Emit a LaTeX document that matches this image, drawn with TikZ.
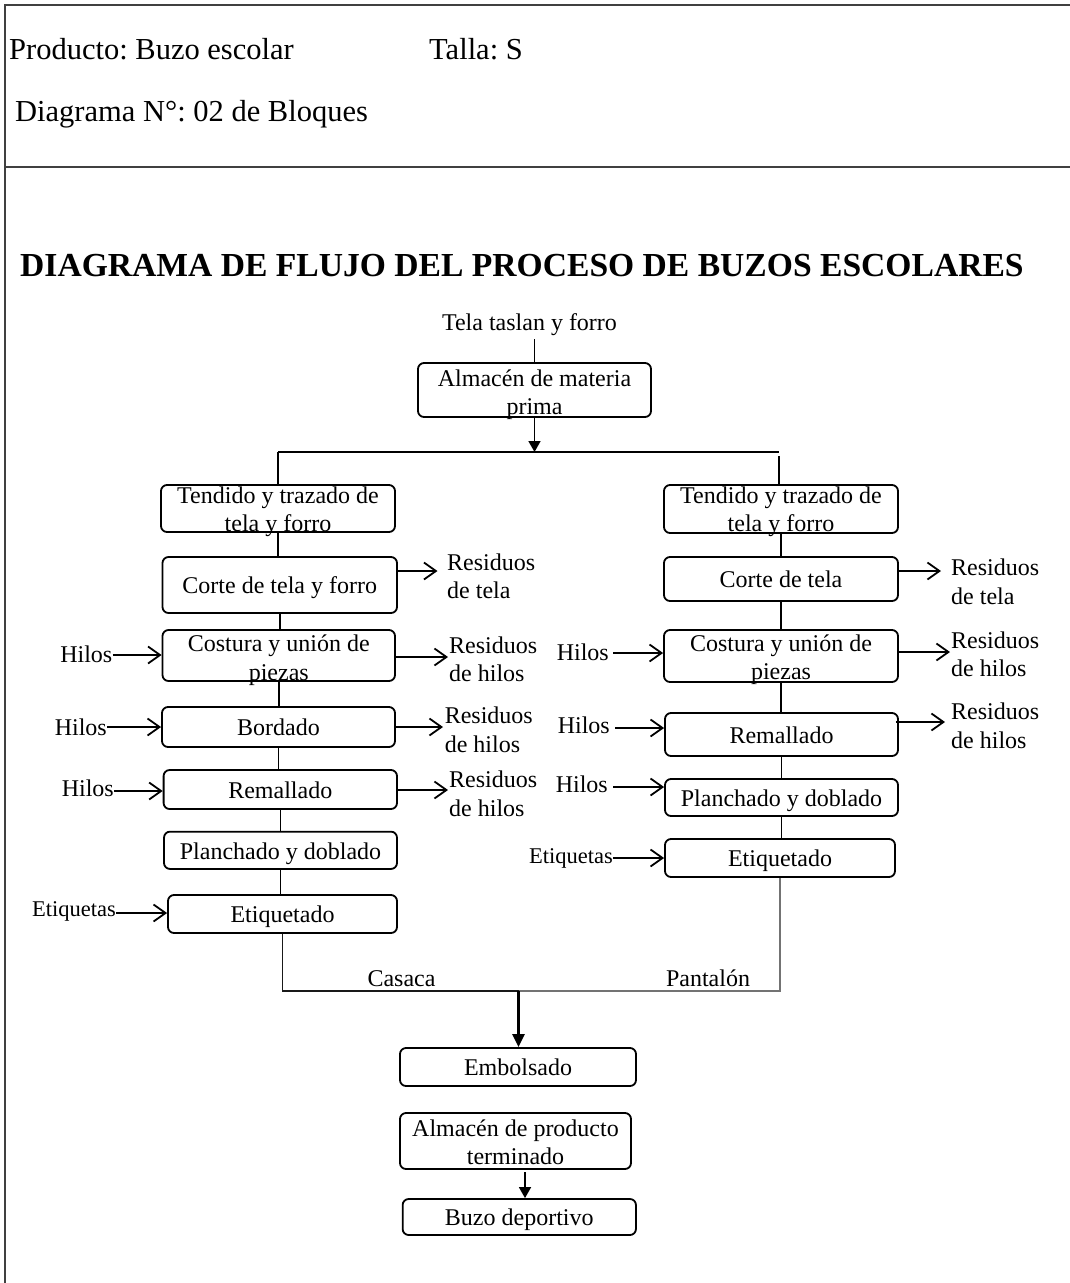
\documentclass[tikz,border=0pt]{standalone}
\usepackage{fontspec}
\setmainfont{Liberation Serif}
\usetikzlibrary{arrows.meta}
\frenchspacing
\newcommand\bodysize{\fontsize{24}{28.5}\selectfont}
\newcommand\tagsize{\fontsize{22.5}{27}\selectfont}
\newcommand\headsize{\fontsize{30.5}{36}\selectfont}
\newcommand\titlesize{\fontsize{33.6}{40}\selectfont\bfseries}
\begin{document}
\begin{tikzpicture}[x=1pt,y=-1pt,
  frame/.style={line width=2pt,draw=black!75},
  box/.style={draw,line width=1.8pt,rounded corners=6pt,inner sep=0pt,
    font=\bodysize,align=center},
  one/.style={text height=23pt,text depth=5.5pt},
  txt/.style={inner sep=0pt,font=\bodysize,align=center},
  sidel/.style={inner sep=0pt,font=\bodysize,align=left,anchor=west},
  sider/.style={inner sep=0pt,font=\bodysize,anchor=east,text height=20pt,text depth=8.5pt},
  tagr/.style={inner sep=0pt,font=\tagsize,anchor=east,text height=19pt,text depth=8pt},
  link/.style={line width=1.6pt},
  flow/.style={line width=1.6pt,-{Triangle[length=11pt,width=12pt]}},
  feed/.style={line width=1.8pt,-{Straight Barb[length=12pt,width=17pt]}},
  merge/.style={line width=1.2pt}]
\useasboundingbox (0,0) rectangle (1070,1283);

% sheet frame and header
\draw[frame] (5,1283) -- (5,5) -- (1070,5);
\draw[frame] (5,167) -- (1070,167);
\node[inner sep=0pt,anchor=base west,font=\headsize] (prod) at (9,59.3) {Producto: Buzo escolar};
\node[inner sep=0pt,anchor=base west,font=\headsize] (talla) at (429,59.3) {Talla: S};
\node[inner sep=0pt,anchor=base west,font=\headsize] (diag) at (15,121.7) {Diagrama N°: 02 de Bloques};
\node[inner sep=0pt,anchor=base west,font=\titlesize] (title) at (20,276) {DIAGRAMA DE FLUJO DEL PROCESO DE BUZOS ESCOLARES};

% raw material
\node[txt,text height=20pt,text depth=8.5pt] (tela) at (529.5,325) {Tela taslan y forro};
\node[box,minimum width=233pt,minimum height=54pt] (alm) at (534.5,390) {};
\node[txt] (almt) at (534.5,395) {\strut Almacén de materia\\\strut prima};
\draw[link] (tela.south -| alm.north) -- (alm.north);
\coordinate (split) at (534.5,452);
\draw[flow] (alm.south) -- (split);

% left branch: casaca
\node[box,minimum width=234pt,minimum height=47pt] (tendL) at (278,508.5) {};
\node[txt] (tendLt) at (278,512) {\strut Tendido y trazado de\\\strut tela y forro};
\node[box,one,minimum width=234.5pt,minimum height=56pt] (corteL) at (279.75,585) {Corte de tela y forro};
\node[box,minimum width=232.5pt,minimum height=51pt] (costL) at (278.75,655.5) {};
\node[txt] (costLt) at (278.75,660.5) {\strut Costura y unión de\\\strut piezas};
\node[box,one,minimum width=233pt,minimum height=40pt] (bordL) at (278.5,727) {Bordado};
\node[box,one,minimum width=233.4pt,minimum height=39pt] (remL) at (280.3,789.5) {Remallado};
\node[box,one,minimum width=233pt,minimum height=37.3pt] (planL) at (280.5,850.3) {Planchado y doblado};
\node[box,one,minimum width=229pt,minimum height=38pt] (etiqL) at (282.5,914) {Etiquetado};

% right branch: pantalón
\node[box,minimum width=234pt,minimum height=48pt] (tendR) at (781,509) {};
\node[txt] (tendRt) at (781,512) {\strut Tendido y trazado de\\\strut tela y forro};
\node[box,one,minimum width=234pt,minimum height=44pt] (corteR) at (781,579) {Corte de tela};
\node[box,minimum width=234pt,minimum height=52pt] (costR) at (781,656) {};
\node[txt] (costRt) at (781,660) {\strut Costura y unión de\\\strut piezas};
\node[box,one,minimum width=233pt,minimum height=43pt] (remR) at (781.5,734.5) {Remallado};
\node[box,one,minimum width=233pt,minimum height=37pt] (planR) at (781.5,797.5) {Planchado y doblado};
\node[box,one,minimum width=230pt,minimum height=38pt] (etiqR) at (780,858) {Etiquetado};

% split into the two branches
\coordinate (gapR) at (779,456);
\draw[link] (tendL.north |- split) -- (779,452);
\draw[link] (tendL.north |- split) -- (tendL.north);
\draw[link] (gapR) -- (gapR |- tendR.north);

% column links
\foreach \a/\b in {tendL/corteL,corteL/costL,costL/bordL,bordL/remL,remL/planL,planL/etiqL,
                   tendR/corteR,corteR/costR,costR/remR,remR/planR,planR/etiqR}
  \draw[link] (\a.south) -- (\a.south |- \b.north);

% inputs, left
\node[sider] (hiL1) at (112.5,657) {Hilos};
\node[sider] (hiL2) at (107,730) {Hilos};
\node[sider] (hiL3) at (114,791) {Hilos};
\node[tagr] (etL) at (116,911) {Etiquetas};
\draw[feed] (112.5,655) coordinate (aL1) -- (aL1 -| costL.west);
\draw[feed] (107,727) coordinate (aL2) -- (aL2 -| bordL.west);
\draw[feed] (hiL3.east) -- (hiL3.east -| remL.west);
\draw[feed] (116,913) coordinate (aL4) -- (aL4 -| etiqL.west);

% inputs, right
\node[sider] (hiR1) at (609,655) {Hilos};
\node[sider] (hiR2) at (610,728) {Hilos};
\node[sider] (hiR3) at (608,787) {Hilos};
\node[tagr] (etR) at (613,858) {Etiquetas};
\draw[feed] (613,653) coordinate (aR1) -- (aR1 -| costR.west);
\draw[feed] (615,728) coordinate (aR2) -- (aR2 -| remR.west);
\draw[feed] (613,787) coordinate (aR3) -- (aR3 -| planR.west);
\draw[feed] (etR.east) -- (etR.east -| etiqR.west);

% waste outputs, left
\node[sidel] (rsL1) at (447,579) {\strut Residuos\\\strut de tela};
\node[sidel] (rsL2) at (449,662) {\strut Residuos\\\strut de hilos};
\node[sidel] (rsL3) at (444.6,732.5) {\strut Residuos\\\strut de hilos};
\node[sidel] (rsL4) at (449,796.5) {\strut Residuos\\\strut de hilos};
\coordinate (oL1) at (437.5,571);
\coordinate (oL2) at (448,657);
\coordinate (oL3) at (443,727);
\coordinate (oL4) at (448,790);
\draw[feed] (oL1 -| corteL.east) -- (oL1);
\draw[feed] (oL2 -| costL.east) -- (oL2);
\draw[feed] (oL3 -| bordL.east) -- (oL3);
\draw[feed] (oL4 -| remL.east) -- (oL4);

% waste outputs, right
\node[sidel] (rsR1) at (951,584.5) {\strut Residuos\\\strut de tela};
\node[sidel] (rsR2) at (951,657) {\strut Residuos\\\strut de hilos};
\node[sidel] (rsR3) at (951,728.5) {\strut Residuos\\\strut de hilos};
\coordinate (oR1) at (941,571);
\coordinate (oR2) at (950,652);
\coordinate (oR3) at (945,722);
\draw[feed] (oR1 -| corteR.east) -- (oR1);
\draw[feed] (oR2 -| costR.east) -- (oR2);
\draw[feed] ([xshift=-3pt]oR3 -| remR.east) -- (oR3);

% merge of casaca and pantalón
\coordinate (mM) at (518.5,991);
\draw[merge,black!90] (etiqL.south) |- (mM);
\draw[merge,black!55] (mM) -| (etiqR.south);
\node[txt,one] (casaca) at (401.5,978) {Casaca};
\node[txt,one] (pantalon) at (708,978) {Pantalón};

% finishing
\node[box,one,minimum width=236pt,minimum height=38pt] (embol) at (518,1067) {Embolsado};
\draw[line width=2.4pt,-{Triangle[length=13pt,width=12pt]}] (mM) -- (mM |- embol.north);
\node[box,minimum width=231pt,minimum height=56pt] (almP) at (515.5,1141) {};
\node[txt] (almPt) at (515.5,1145) {\strut Almacén de producto\\\strut terminado};
\node[box,one,minimum width=233.3pt,minimum height=36pt] (buzo) at (519.3,1217) {Buzo deportivo};
\coordinate (pA) at (525,1172);
\draw[flow] (pA) -- (pA |- buzo.north);
\end{tikzpicture}
\end{document}
